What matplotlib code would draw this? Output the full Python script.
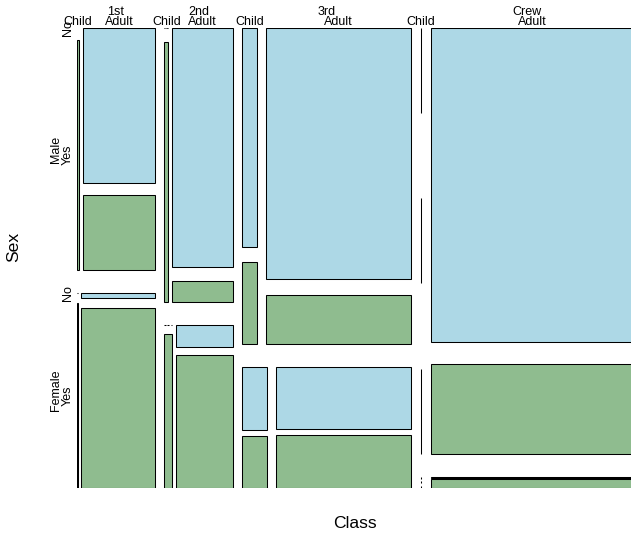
import numpy as np
import matplotlib
matplotlib.use('Agg')
import matplotlib.pyplot as plt
from matplotlib.patches import Rectangle
from matplotlib.transforms import blended_transform_factory

plt.rcParams['font.family'] = ['Liberation Sans', 'DejaVu Sans']

# ---- data (Titanic) ----
classes = ['1st', '2nd', '3rd', 'Crew']
sexes = ['Male', 'Female']
ages = ['Child', 'Adult']
survived = ['No', 'Yes']

no_child_male = [0, 0, 35, 0]
yes_child_male = [5, 11, 13, 0]
no_adult_male = [118, 154, 387, 670]
yes_adult_male = [57, 14, 75, 192]
no_child_female = [0, 0, 17, 0]
yes_child_female = [1, 13, 14, 0]
no_adult_female = [4, 13, 89, 3]
yes_adult_female = [140, 80, 76, 20]

colors = ['#ADD8E6', '#8FBC8F']  # lightblue, darkseagreen

counts = np.zeros((4, 2, 2, 2))
counts[:, 0, 0, 0] = no_child_male
counts[:, 0, 0, 1] = yes_child_male
counts[:, 0, 1, 0] = no_adult_male
counts[:, 0, 1, 1] = yes_adult_male
counts[:, 1, 0, 0] = no_child_female
counts[:, 1, 0, 1] = yes_child_female
counts[:, 1, 1, 0] = no_adult_female
counts[:, 1, 1, 1] = yes_adult_female

# ---- figure ----
W, H = 631, 535
fig = plt.figure(figsize=(W / 100, H / 100), dpi=100)
L, R, T, B = 77, 633, 28, 488
ax = fig.add_axes([L / W, 1 - B / H, (R - L) / W, (B - T) / H])
ax.set_xlim(0, 1)
ax.set_ylim(0, 1)
ax.axis('off')

tr_top = blended_transform_factory(ax.transData, fig.transFigure)
tr_left = blended_transform_factory(fig.transFigure, ax.transData)

dirs = ['v', 'h', 'v', 'h']
off = 0.05
labels = [classes, sexes, ages, survived]
lab_top_y = {0: 1 - 12 / H, 2: 1 - 22 / H}
lab_left_x = {1: 56 / W, 3: 68 / W}
lab_fs = 9
lw = 0.75


def cell(sub, level, x1, y1, x2, y2, first_v, first_h):
    n = sub.shape[0]
    tot = np.array([sub[i].sum() for i in range(n)], dtype=float)
    P = tot / tot.sum()
    final = level == len(dirs) - 1
    if dirs[level] == 'v':
        white = off * (x2 - x1) / max(1, n - 1)
        xl = [x1]
        xr = [x1 + (1 - off) * P[0] * (x2 - x1)]
        for i in range(1, n):
            xl.append(xr[-1] + white)
            xr.append(xl[-1] + (1 - off) * P[i] * (x2 - x1))
        if first_h:
            for i in range(n):
                ax.text((xl[i] + xr[i]) / 2, lab_top_y[level], labels[level][i],
                        transform=tr_top, ha='center', va='center',
                        fontsize=lab_fs, clip_on=False)
        for i in range(n):
            if P[i] > 0:
                if final:
                    ax.add_patch(Rectangle((xl[i], y1), xr[i] - xl[i], y2 - y1,
                                           facecolor=colors[i], edgecolor='black', lw=lw))
                else:
                    cell(sub[i], level + 1, xl[i], y1, xr[i], y2,
                         first_v and i == 0, first_h)
            else:
                for a, b in [(0, 1), (2, 3), (4, 5)]:
                    ax.plot([xl[i], xl[i]], [y1 + (y2 - y1) * a / 5, y1 + (y2 - y1) * b / 5],
                            color='black', lw=lw, solid_capstyle='butt')
    else:
        white = off * (y2 - y1) / max(1, n - 1)
        yt = [y2]
        yb = [y2 - (1 - off) * P[0] * (y2 - y1)]
        for i in range(1, n):
            yt.append(yb[-1] - white)
            yb.append(yt[-1] - (1 - off) * P[i] * (y2 - y1))
        if first_v:
            for i in range(n):
                ax.text(lab_left_x[level], (yb[i] + yt[i]) / 2, labels[level][i],
                        transform=tr_left, ha='center', va='center', rotation=90,
                        fontsize=lab_fs, clip_on=False)
        for i in range(n):
            if P[i] > 0:
                if final:
                    ax.add_patch(Rectangle((x1, yb[i]), x2 - x1, yt[i] - yb[i],
                                           facecolor=colors[i], edgecolor='black', lw=lw))
                else:
                    cell(sub[i], level + 1, x1, yb[i], x2, yt[i],
                         first_v, first_h and i == 0)
            else:
                for a, b in [(0, 1), (2, 3), (4, 5)]:
                    ax.plot([x1 + (x2 - x1) * a / 5, x1 + (x2 - x1) * b / 5], [yb[i], yb[i]],
                            color='black', lw=lw, solid_capstyle='butt')


cell(counts, 0, 0.0, 0.0, 1.0, 1.0, True, True)

fig.text(355 / W, 1 - 524 / H, 'Class', ha='center', va='center', fontsize=12.6)
fig.text(13.5 / W, 1 - 247 / H, 'Sex', ha='center', va='center', rotation=90, fontsize=12.6)

fig.savefig('out.png', dpi=100, facecolor='white')
